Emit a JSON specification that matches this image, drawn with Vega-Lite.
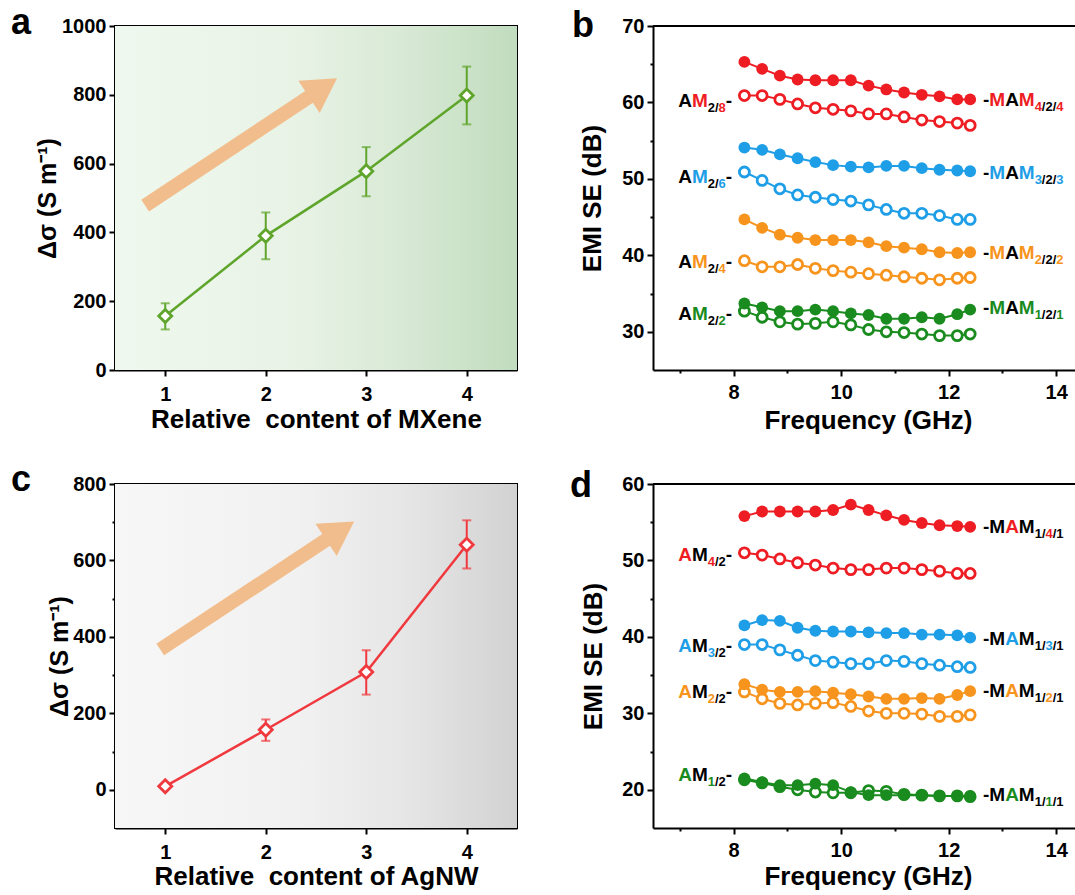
{
  "$schema": "https://vega.github.io/schema/vega-lite/v6.json",
  "padding": {"left": 10, "top": 4, "right": 0, "bottom": 0},
  "columns": 2,
  "align": "each",
  "bounds": "flush",
  "spacing": {"row": 114, "column": 136},
  "datasets": {
    "sig": [
      {"panel": "a", "c": 1, "ds": 157, "lo": 118, "hi": 194},
      {"panel": "a", "c": 2, "ds": 390, "lo": 322, "hi": 458},
      {"panel": "a", "c": 3, "ds": 578, "lo": 505, "hi": 648},
      {"panel": "a", "c": 4, "ds": 798, "lo": 714, "hi": 882},
      {"panel": "c", "c": 1, "ds": 9, "lo": 3, "hi": 15},
      {"panel": "c", "c": 2, "ds": 157, "lo": 128, "hi": 184},
      {"panel": "c", "c": 3, "ds": 308, "lo": 249, "hi": 365},
      {"panel": "c", "c": 4, "ds": 641, "lo": 579, "hi": 705}
    ],
    "arrows": [
      {"panel": "a", "x": 0.80, "y": 478, "x2": 2.57, "y2": 821},
      {"panel": "c", "x": 0.95, "y": 367, "x2": 2.74, "y2": 678}
    ],
    "emi": [
      {"panel": "b", "level": 4, "kind": "MAM", "f": [8.2, 8.53, 8.86, 9.19, 9.52, 9.85, 10.18, 10.51, 10.84, 11.17, 11.5, 11.83, 12.16, 12.4], "v": [65.3, 64.4, 63.5, 63.0, 62.9, 62.9, 62.9, 62.2, 61.7, 61.3, 61.0, 60.8, 60.4, 60.4]},
      {"panel": "b", "level": 4, "kind": "AM", "f": [8.2, 8.53, 8.86, 9.19, 9.52, 9.85, 10.18, 10.51, 10.84, 11.17, 11.5, 11.83, 12.16, 12.4], "v": [60.9, 60.9, 60.4, 59.8, 59.3, 59.1, 58.9, 58.5, 58.5, 58.1, 57.7, 57.5, 57.3, 57.0]},
      {"panel": "b", "level": 3, "kind": "MAM", "f": [8.2, 8.53, 8.86, 9.19, 9.52, 9.85, 10.18, 10.51, 10.84, 11.17, 11.5, 11.83, 12.16, 12.4], "v": [54.1, 53.8, 53.2, 52.7, 52.2, 51.8, 51.6, 51.5, 51.7, 51.7, 51.4, 51.2, 51.1, 51.0]},
      {"panel": "b", "level": 3, "kind": "AM", "f": [8.2, 8.53, 8.86, 9.19, 9.52, 9.85, 10.18, 10.51, 10.84, 11.17, 11.5, 11.83, 12.16, 12.4], "v": [50.9, 49.8, 48.7, 47.9, 47.6, 47.3, 47.1, 46.6, 46.0, 45.5, 45.5, 45.2, 44.7, 44.7]},
      {"panel": "b", "level": 2, "kind": "MAM", "f": [8.2, 8.53, 8.86, 9.19, 9.52, 9.85, 10.18, 10.51, 10.84, 11.17, 11.5, 11.83, 12.16, 12.4], "v": [44.7, 43.6, 42.7, 42.3, 42.0, 42.0, 42.0, 41.7, 41.2, 41.0, 40.8, 40.4, 40.3, 40.4]},
      {"panel": "b", "level": 2, "kind": "AM", "f": [8.2, 8.53, 8.86, 9.19, 9.52, 9.85, 10.18, 10.51, 10.84, 11.17, 11.5, 11.83, 12.16, 12.4], "v": [39.3, 38.5, 38.5, 38.8, 38.3, 38.0, 37.8, 37.6, 37.4, 37.2, 37.0, 36.8, 37.0, 37.1]},
      {"panel": "b", "level": 1, "kind": "MAM", "f": [8.2, 8.53, 8.86, 9.19, 9.52, 9.85, 10.18, 10.51, 10.84, 11.17, 11.5, 11.83, 12.16, 12.4], "v": [33.7, 33.2, 32.7, 32.7, 32.9, 32.7, 32.4, 32.2, 31.7, 31.7, 31.9, 31.7, 32.3, 32.9]},
      {"panel": "b", "level": 1, "kind": "AM", "f": [8.2, 8.53, 8.86, 9.19, 9.52, 9.85, 10.18, 10.51, 10.84, 11.17, 11.5, 11.83, 12.16, 12.4], "v": [32.7, 31.9, 31.3, 31.0, 31.1, 31.3, 30.9, 30.3, 30.0, 29.9, 29.7, 29.5, 29.5, 29.7]},
      {"panel": "d", "level": 4, "kind": "MAM", "f": [8.2, 8.53, 8.86, 9.19, 9.52, 9.85, 10.18, 10.51, 10.84, 11.17, 11.5, 11.83, 12.16, 12.4], "v": [55.8, 56.4, 56.4, 56.4, 56.4, 56.6, 57.3, 56.6, 55.9, 55.3, 54.9, 54.6, 54.5, 54.4]},
      {"panel": "d", "level": 4, "kind": "AM", "f": [8.2, 8.53, 8.86, 9.19, 9.52, 9.85, 10.18, 10.51, 10.84, 11.17, 11.5, 11.83, 12.16, 12.4], "v": [51.0, 50.7, 50.2, 49.7, 49.4, 49.0, 48.8, 48.8, 49.0, 49.0, 48.8, 48.6, 48.3, 48.3]},
      {"panel": "d", "level": 3, "kind": "MAM", "f": [8.2, 8.53, 8.86, 9.19, 9.52, 9.85, 10.18, 10.51, 10.84, 11.17, 11.5, 11.83, 12.16, 12.4], "v": [41.5, 42.2, 42.1, 41.2, 40.8, 40.7, 40.7, 40.6, 40.5, 40.5, 40.3, 40.3, 40.2, 39.9]},
      {"panel": "d", "level": 3, "kind": "AM", "f": [8.2, 8.53, 8.86, 9.19, 9.52, 9.85, 10.18, 10.51, 10.84, 11.17, 11.5, 11.83, 12.16, 12.4], "v": [39.0, 39.0, 38.3, 37.6, 36.9, 36.7, 36.5, 36.5, 36.9, 36.8, 36.5, 36.3, 36.1, 36.0]},
      {"panel": "d", "level": 2, "kind": "MAM", "f": [8.2, 8.53, 8.86, 9.19, 9.52, 9.85, 10.18, 10.51, 10.84, 11.17, 11.5, 11.83, 12.16, 12.4], "v": [33.8, 33.1, 32.8, 32.8, 32.9, 32.7, 32.5, 32.2, 31.9, 31.9, 32.0, 31.9, 32.4, 32.9]},
      {"panel": "d", "level": 2, "kind": "AM", "f": [8.2, 8.53, 8.86, 9.19, 9.52, 9.85, 10.18, 10.51, 10.84, 11.17, 11.5, 11.83, 12.16, 12.4], "v": [32.8, 31.9, 31.3, 31.1, 31.3, 31.4, 30.9, 30.3, 30.0, 30.0, 29.9, 29.6, 29.6, 29.8]},
      {"panel": "d", "level": 1, "kind": "MAM", "f": [8.2, 8.53, 8.86, 9.19, 9.52, 9.85, 10.18, 10.51, 10.84, 11.17, 11.5, 11.83, 12.16, 12.4], "v": [21.5, 21.0, 20.6, 20.6, 20.8, 20.6, 19.7, 19.3, 19.3, 19.3, 19.3, 19.2, 19.2, 19.2]},
      {"panel": "d", "level": 1, "kind": "AM", "f": [8.2, 8.53, 8.86, 9.19, 9.52, 9.85, 10.18, 10.51, 10.84, 11.17, 11.5, 11.83, 12.16, 12.4], "v": [21.3, 20.9, 20.4, 20.0, 19.7, 19.6, 19.6, 19.9, 19.8, 19.4, 19.3, 19.2, 19.2, 19.1]}
    ],
    "labels": [
      {"panel": "b", "side": "L", "level": 4, "y": 60.3, "d": "8"},
      {"panel": "b", "side": "L", "level": 3, "y": 50.4, "d": "6"},
      {"panel": "b", "side": "L", "level": 2, "y": 39.3, "d": "4"},
      {"panel": "b", "side": "L", "level": 1, "y": 32.4, "d": "2"},
      {"panel": "b", "side": "R", "level": 4, "y": 60.4, "d": "4"},
      {"panel": "b", "side": "R", "level": 3, "y": 50.9, "d": "3"},
      {"panel": "b", "side": "R", "level": 2, "y": 40.4, "d": "2"},
      {"panel": "b", "side": "R", "level": 1, "y": 33.2, "d": "1"},
      {"panel": "d", "side": "L", "level": 4, "y": 50.8, "d": "4"},
      {"panel": "d", "side": "L", "level": 3, "y": 39.0, "d": "3"},
      {"panel": "d", "side": "L", "level": 2, "y": 32.9, "d": "2"},
      {"panel": "d", "side": "L", "level": 1, "y": 22.0, "d": "1"},
      {"panel": "d", "side": "R", "level": 4, "y": 54.5, "d": "4"},
      {"panel": "d", "side": "R", "level": 3, "y": 39.8, "d": "3"},
      {"panel": "d", "side": "R", "level": 2, "y": 33.0, "d": "2"},
      {"panel": "d", "side": "R", "level": 1, "y": 19.4, "d": "1"}
    ]
  },
  "concat": [
    {
      "width": 402, "height": 344,
      "title": {"text": "a", "dx": -104, "dy": 30},
      "layer": [
        {"data": {"values": [{}]}, "mark": {"type": "rect", "fill": {"gradient": "linear", "x1": 0, "y1": 0, "x2": 1, "y2": 0, "stops": [{"offset": 0, "color": "#eff8ee"}, {"offset": 0.45, "color": "#e8f3e6"}, {"offset": 0.7, "color": "#d9ead6"}, {"offset": 1, "color": "#c1dcbe"}]}}, "encoding": {}},
        {"data": {"name": "arrows"}, "transform": [{"filter": "datum.panel=='a'"}],
          "layer": [
            {"mark": {"type": "rule", "color": "#f2bd8c", "strokeWidth": 14, "strokeCap": "butt"}, "encoding": {"x": {"field": "x", "type": "quantitative"}, "y": {"field": "y", "type": "quantitative"}, "x2": {"field": "x2"}, "y2": {"field": "y2"}}},
            {"mark": {"type": "point", "shape": "triangle-up", "filled": true, "color": "#f2bd8c", "size": 1500, "angle": 56.6, "opacity": 1}, "encoding": {"x": {"field": "x2", "type": "quantitative"}, "y": {"field": "y2", "type": "quantitative"}}}
          ]},
        {"data": {"name": "sig"}, "transform": [{"filter": "datum.panel=='a'"}],
          "encoding": {
            "x": {"field": "c", "type": "quantitative", "scale": {"domain": [0.5, 4.5], "nice": false, "zero": false}, "axis": {"title": "Relative\u00a0 content of MXene", "format": "d", "values": [1, 2, 3, 4], "labelPadding": 8, "titlePadding": 2}},
            "y": {"field": "ds", "type": "quantitative", "scale": {"domain": [0, 1000], "nice": false, "zero": false}, "axis": {"title": "Δσ (S m⁻¹)", "titleFontSize": 25, "format": "d", "values": [0, 100, 200, 300, 400, 500, 600, 700, 800, 900, 1000], "labelExpr": "datum.value % 200 === 0 ? datum.label : ''", "tickSize": {"condition": {"test": "datum.value % 200 !== 0", "value": 3}, "value": 6}, "titleX": -68, "titleBaseline": "middle"}}
          },
          "layer": [
            {"mark": {"type": "rule", "color": "#5fa52c", "strokeWidth": 2}, "encoding": {"y": {"field": "lo", "type": "quantitative"}, "y2": {"field": "hi"}}},
            {"mark": {"type": "tick", "orient": "horizontal", "color": "#5fa52c", "size": 9, "thickness": 2}, "encoding": {"y": {"field": "lo", "type": "quantitative"}}},
            {"mark": {"type": "tick", "orient": "horizontal", "color": "#5fa52c", "size": 9, "thickness": 2}, "encoding": {"y": {"field": "hi", "type": "quantitative"}}},
            {"mark": {"type": "line", "color": "#5fa52c", "strokeWidth": 2.5}},
            {"mark": {"type": "point", "shape": "diamond", "filled": false, "fill": "white", "color": "#5fa52c", "strokeWidth": 2.8, "size": 170, "opacity": 1}}
          ]}
      ]
    },
    {
      "width": 422, "height": 344,
      "view": {"stroke": null},
      "title": {"text": "b", "dx": -81, "dy": 33},
      "layer": [
        {"data": {"values": [{}]}, "mark": {"type": "rule", "strokeWidth": 2, "color": "black"}, "encoding": {"y": {"datum": 70, "type": "quantitative"}}},
        {"data": {"name": "emi"}, "transform": [{"filter": "datum.panel=='b'"}, {"flatten": ["f", "v"]}],
          "encoding": {
            "x": {"field": "f", "type": "quantitative", "scale": {"domain": [6.5, 14.35], "nice": false, "zero": false}, "axis": {"title": "Frequency (GHz)", "format": "d", "values": [7, 8, 9, 10, 11, 12, 13, 14], "labelExpr": "datum.value % 2 === 0 ? datum.label : ''", "tickSize": {"condition": {"test": "datum.value % 2 !== 0", "value": 3}, "value": 6}, "labelPadding": 6, "titlePadding": 5, "titleX": 215}},
            "y": {"field": "v", "type": "quantitative", "scale": {"domain": [25, 70], "nice": false, "zero": false}, "axis": {"title": "EMI SE (dB)", "titleFontSize": 26, "format": "d", "values": [30, 35, 40, 45, 50, 55, 60, 65, 70], "labelExpr": "datum.value % 10 === 0 ? datum.label : ''", "tickSize": {"condition": {"test": "datum.value % 10 !== 0", "value": 3}, "value": 6}, "titleX": -61, "titleBaseline": "middle"}},
            "color": {"field": "level", "type": "nominal", "scale": {"domain": [1, 2, 3, 4], "range": ["#1a8b1e", "#f7941d", "#1e9ee6", "#ee1d23"]}}
          },
          "layer": [
            {"mark": {"type": "line", "strokeWidth": 2}, "encoding": {"detail": {"field": "kind"}}},
            {"transform": [{"filter": "datum.kind=='AM'"}], "mark": {"type": "point", "filled": false, "fill": "white", "strokeWidth": 2.8, "size": 100, "opacity": 1}},
            {"transform": [{"filter": "datum.kind=='MAM'"}], "mark": {"type": "circle", "size": 140, "opacity": 1}}
          ]},
        {"data": {"name": "labels"}, "transform": [{"filter": "datum.panel=='b' && datum.side=='L'"}],
          "encoding": {"x": {"datum": 7.97, "type": "quantitative"}, "y": {"field": "y", "type": "quantitative"}},
          "layer": [
            {"mark": {"type": "text", "align": "right", "dx": 0, "dy": 7, "fontSize": 19, "color": "black", "text": "-"}},
            {"mark": {"type": "text", "align": "right", "dx": -6.3, "dy": 12, "fontSize": 13}, "encoding": {"text": {"field": "d"}, "color": {"field": "level", "type": "nominal"}}},
            {"mark": {"type": "text", "align": "right", "dx": -13.5, "dy": 12, "fontSize": 13, "color": "black", "text": "2/"}},
            {"mark": {"type": "text", "align": "right", "dx": -24.3, "dy": 7, "fontSize": 19, "text": "M"}, "encoding": {"color": {"field": "level", "type": "nominal"}}},
            {"mark": {"type": "text", "align": "right", "dx": -40.1, "dy": 7, "fontSize": 19, "color": "black", "text": "A"}}
          ]},
        {"data": {"name": "labels"}, "transform": [{"filter": "datum.panel=='b' && datum.side=='R'"}],
          "encoding": {"x": {"datum": 12.64, "type": "quantitative"}, "y": {"field": "y", "type": "quantitative"}},
          "layer": [
            {"mark": {"type": "text", "align": "left", "dx": 0, "dy": 7, "fontSize": 19, "color": "black", "text": "-"}},
            {"mark": {"type": "text", "align": "left", "dx": 6.3, "dy": 7, "fontSize": 19, "text": "M"}, "encoding": {"color": {"field": "level", "type": "nominal"}}},
            {"mark": {"type": "text", "align": "left", "dx": 22.1, "dy": 7, "fontSize": 19, "color": "black", "text": "A"}},
            {"mark": {"type": "text", "align": "left", "dx": 35.8, "dy": 7, "fontSize": 19, "text": "M"}, "encoding": {"color": {"field": "level", "type": "nominal"}}},
            {"mark": {"type": "text", "align": "left", "dx": 51.6, "dy": 12, "fontSize": 13}, "encoding": {"text": {"field": "d"}, "color": {"field": "level", "type": "nominal"}}},
            {"mark": {"type": "text", "align": "left", "dx": 58.8, "dy": 12, "fontSize": 13, "color": "black", "text": "/2/"}},
            {"mark": {"type": "text", "align": "left", "dx": 73.2, "dy": 12, "fontSize": 13}, "encoding": {"text": {"field": "d"}, "color": {"field": "level", "type": "nominal"}}}
          ]}
      ]
    },
    {
      "width": 402, "height": 344,
      "title": {"text": "c", "dx": -104, "dy": 29},
      "layer": [
        {"data": {"values": [{}]}, "mark": {"type": "rect", "fill": {"gradient": "linear", "x1": 0, "y1": 0, "x2": 1, "y2": 0, "stops": [{"offset": 0, "color": "#f7f7f7"}, {"offset": 0.45, "color": "#f1f1f1"}, {"offset": 0.72, "color": "#e6e6e6"}, {"offset": 1, "color": "#d2d2d2"}]}}, "encoding": {}},
        {"data": {"name": "arrows"}, "transform": [{"filter": "datum.panel=='c'"}],
          "layer": [
            {"mark": {"type": "rule", "color": "#f2bd8c", "strokeWidth": 14, "strokeCap": "butt"}, "encoding": {"x": {"field": "x", "type": "quantitative"}, "y": {"field": "y", "type": "quantitative"}, "x2": {"field": "x2"}, "y2": {"field": "y2"}}},
            {"mark": {"type": "point", "shape": "triangle-up", "filled": true, "color": "#f2bd8c", "size": 1500, "angle": 56.7, "opacity": 1}, "encoding": {"x": {"field": "x2", "type": "quantitative"}, "y": {"field": "y2", "type": "quantitative"}}}
          ]},
        {"data": {"name": "sig"}, "transform": [{"filter": "datum.panel=='c'"}],
          "encoding": {
            "x": {"field": "c", "type": "quantitative", "scale": {"domain": [0.5, 4.5], "nice": false, "zero": false}, "axis": {"title": "Relative\u00a0 content of AgNW", "format": "d", "values": [1, 2, 3, 4], "labelPadding": 8, "titlePadding": 1}},
            "y": {"field": "ds", "type": "quantitative", "scale": {"domain": [-100, 800], "nice": false, "zero": false}, "axis": {"title": "Δσ (S m⁻¹)", "titleFontSize": 25, "format": "d", "values": [0, 100, 200, 300, 400, 500, 600, 700, 800], "labelExpr": "datum.value % 200 === 0 ? datum.label : ''", "tickSize": {"condition": {"test": "datum.value % 200 !== 0", "value": 3}, "value": 6}, "titleX": -56, "titleBaseline": "middle"}}
          },
          "layer": [
            {"mark": {"type": "rule", "color": "#f0393f", "strokeWidth": 2}, "encoding": {"y": {"field": "lo", "type": "quantitative"}, "y2": {"field": "hi"}}},
            {"mark": {"type": "tick", "orient": "horizontal", "color": "#f0393f", "size": 9, "thickness": 2}, "encoding": {"y": {"field": "lo", "type": "quantitative"}}},
            {"mark": {"type": "tick", "orient": "horizontal", "color": "#f0393f", "size": 9, "thickness": 2}, "encoding": {"y": {"field": "hi", "type": "quantitative"}}},
            {"mark": {"type": "line", "color": "#f0393f", "strokeWidth": 2.5}},
            {"mark": {"type": "point", "shape": "diamond", "filled": false, "fill": "white", "color": "#f0393f", "strokeWidth": 2.8, "size": 170, "opacity": 1}}
          ]}
      ]
    },
    {
      "width": 422, "height": 344,
      "view": {"stroke": null},
      "title": {"text": "d", "dx": -83, "dy": 35},
      "layer": [
        {"data": {"values": [{}]}, "mark": {"type": "rule", "strokeWidth": 2, "color": "black"}, "encoding": {"y": {"datum": 60, "type": "quantitative"}}},
        {"data": {"name": "emi"}, "transform": [{"filter": "datum.panel=='d'"}, {"flatten": ["f", "v"]}],
          "encoding": {
            "x": {"field": "f", "type": "quantitative", "scale": {"domain": [6.5, 14.35], "nice": false, "zero": false}, "axis": {"title": "Frequency (GHz)", "format": "d", "values": [7, 8, 9, 10, 11, 12, 13, 14], "labelExpr": "datum.value % 2 === 0 ? datum.label : ''", "tickSize": {"condition": {"test": "datum.value % 2 !== 0", "value": 3}, "value": 6}, "labelPadding": 6, "titlePadding": 3, "titleX": 215}},
            "y": {"field": "v", "type": "quantitative", "scale": {"domain": [15, 60], "nice": false, "zero": false}, "axis": {"title": "EMI SE (dB)", "titleFontSize": 26, "format": "d", "values": [20, 25, 30, 35, 40, 45, 50, 55, 60], "labelExpr": "datum.value % 10 === 0 ? datum.label : ''", "tickSize": {"condition": {"test": "datum.value % 10 !== 0", "value": 3}, "value": 6}, "titleX": -60, "titleBaseline": "middle"}},
            "color": {"field": "level", "type": "nominal", "scale": {"domain": [1, 2, 3, 4], "range": ["#1a8b1e", "#f7941d", "#1e9ee6", "#ee1d23"]}}
          },
          "layer": [
            {"mark": {"type": "line", "strokeWidth": 2}, "encoding": {"detail": {"field": "kind"}}},
            {"transform": [{"filter": "datum.kind=='AM'"}], "mark": {"type": "point", "filled": false, "fill": "white", "strokeWidth": 2.8, "size": 100, "opacity": 1}},
            {"transform": [{"filter": "datum.kind=='MAM'"}], "mark": {"type": "circle", "size": 140, "opacity": 1}}
          ]},
        {"data": {"name": "labels"}, "transform": [{"filter": "datum.panel=='d' && datum.side=='L'"}],
          "encoding": {"x": {"datum": 7.97, "type": "quantitative"}, "y": {"field": "y", "type": "quantitative"}},
          "layer": [
            {"mark": {"type": "text", "align": "right", "dx": 0, "dy": 7, "fontSize": 19, "color": "black", "text": "-"}},
            {"mark": {"type": "text", "align": "right", "dx": -6.3, "dy": 12, "fontSize": 13, "color": "black", "text": "/2"}},
            {"mark": {"type": "text", "align": "right", "dx": -17.1, "dy": 12, "fontSize": 13}, "encoding": {"text": {"field": "d"}, "color": {"field": "level", "type": "nominal"}}},
            {"mark": {"type": "text", "align": "right", "dx": -24.3, "dy": 7, "fontSize": 19, "color": "black", "text": "M"}},
            {"mark": {"type": "text", "align": "right", "dx": -40.1, "dy": 7, "fontSize": 19, "text": "A"}, "encoding": {"color": {"field": "level", "type": "nominal"}}}
          ]},
        {"data": {"name": "labels"}, "transform": [{"filter": "datum.panel=='d' && datum.side=='R'"}],
          "encoding": {"x": {"datum": 12.64, "type": "quantitative"}, "y": {"field": "y", "type": "quantitative"}},
          "layer": [
            {"mark": {"type": "text", "align": "left", "dx": 0, "dy": 7, "fontSize": 19, "color": "black", "text": "-"}},
            {"mark": {"type": "text", "align": "left", "dx": 6.3, "dy": 7, "fontSize": 19, "color": "black", "text": "M"}},
            {"mark": {"type": "text", "align": "left", "dx": 22.1, "dy": 7, "fontSize": 19, "text": "A"}, "encoding": {"color": {"field": "level", "type": "nominal"}}},
            {"mark": {"type": "text", "align": "left", "dx": 35.8, "dy": 7, "fontSize": 19, "color": "black", "text": "M"}},
            {"mark": {"type": "text", "align": "left", "dx": 51.6, "dy": 12, "fontSize": 13, "color": "black", "text": "1/"}},
            {"mark": {"type": "text", "align": "left", "dx": 62.4, "dy": 12, "fontSize": 13}, "encoding": {"text": {"field": "d"}, "color": {"field": "level", "type": "nominal"}}},
            {"mark": {"type": "text", "align": "left", "dx": 69.6, "dy": 12, "fontSize": 13, "color": "black", "text": "/1"}}
          ]}
      ]
    }
  ],
  "config": {
    "font": "Liberation Sans",
    "background": "white",
    "view": {"stroke": "black", "strokeWidth": 2},
    "legend": {"disable": true},
    "text": {"font": "Liberation Sans", "fontWeight": "bold", "baseline": "alphabetic"},
    "title": {"font": "Liberation Sans", "fontSize": 36, "fontWeight": "bold", "anchor": "start", "frame": "group", "offset": 0, "baseline": "alphabetic", "color": "black"},
    "axis": {
      "grid": false,
      "labelFont": "Liberation Sans", "labelFontWeight": "bold", "labelFontSize": 20, "labelColor": "black", "labelPadding": 3,
      "labelOverlap": false, "labelFlush": false, "labelBound": false,
      "titleFont": "Liberation Sans", "titleFontWeight": "bold", "titleFontSize": 26, "titleColor": "black",
      "domainColor": "black", "domainWidth": 2, "tickColor": "black", "tickWidth": 2, "tickSize": 6
    }
  }
}
